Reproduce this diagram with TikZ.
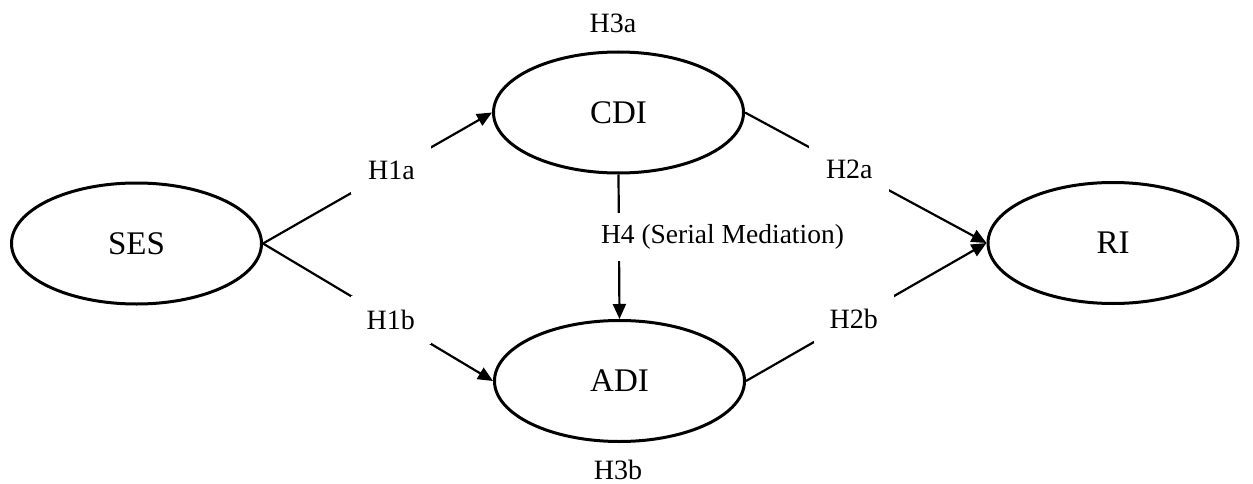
\documentclass[tikz,border=0pt]{standalone}
\usepackage{fontspec}
\setmainfont{Liberation Serif}
\usetikzlibrary{shapes.geometric,arrows.meta}
\begin{document}
\begin{tikzpicture}[x=1pt,y=-1pt,
  construct/.style={ellipse,draw,line width=3pt,minimum width=250pt,minimum height=121pt,inner sep=0pt,font=\fontsize{33}{39}\selectfont},
  conn/.style={line width=2.2pt},
  arr/.style={conn,-{Triangle[length=15pt,width=13pt]}},
  gaplbl/.style={fill=white,inner sep=0pt,minimum width=80pt,minimum height=48pt,font=\fontsize{28}{33}\selectfont},
  hyp/.style={inner sep=0pt,font=\fontsize{28}{33}\selectfont}]
\useasboundingbox (0,0) rectangle (1253,484);
\node[construct] (ses) at (136.5,243.5) {SES};
\node[construct] (cdi) at (618.5,112.5) {CDI};
\node[construct] (adi) at (619.5,381) {ADI};
\node[construct] (ri) at (1113,243) {RI};
\draw[arr] (ses.east) -- node[gaplbl,pos=0.561]{H1a} (cdi.west);
\draw[arr] (ses.east) -- node[gaplbl,pos=0.555]{H1b} (adi.west);
\draw[arr] (cdi.east) -- node[gaplbl,pos=0.432]{H2a} (ri.west);
\draw[arr] (adi.east) -- node[gaplbl,pos=0.448]{H2b} (ri.west);
\draw[arr] (cdi.south) -- node[gaplbl,pos=0.43,anchor=west,xshift=-21pt,minimum width=0pt,inner xsep=2pt,font=\fontsize{27.5}{33}\selectfont]{H4 (Serial Mediation)} (adi.north);
\node[hyp,anchor=base] (h3a) at (613,33) {H3a};
\node[hyp,anchor=base] (h3b) at (618,479) {H3b};
\end{tikzpicture}
\end{document}
